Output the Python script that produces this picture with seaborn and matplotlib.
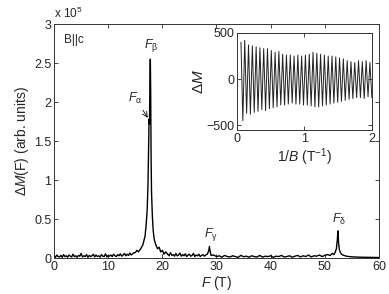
import numpy as np
import pandas as pd
import matplotlib
matplotlib.use("Agg")
import matplotlib.pyplot as plt
import seaborn as sns

sns.set_style("ticks")
plt.rcParams["font.family"] = ["Liberation Sans", "DejaVu Sans"]
plt.rcParams["mathtext.fontset"] = "custom"
plt.rcParams["mathtext.rm"] = "Liberation Sans"
plt.rcParams["mathtext.it"] = "Liberation Sans:italic"

# FFT spectrum (amplitude in units of 1e5)
freq_low = [0.0, 0.25, 0.5, 0.75, 1.0, 1.25, 1.5, 1.75, 2.0, 2.25, 2.5, 2.75, 3.0, 3.25, 3.5, 3.75,
            4.0, 4.25, 4.5, 4.75, 5.0, 5.25, 5.5, 5.75, 6.0, 6.25, 6.5, 6.75, 7.0, 7.25, 7.5, 7.75,
            8.0, 8.25, 8.5, 8.75, 9.0, 9.25, 9.5, 9.75, 10.0, 10.25, 10.5, 10.75, 11.0, 11.25, 11.5, 11.75,
            12.0, 12.25, 12.5, 12.75, 13.0, 13.25, 13.5, 13.75, 14.0, 14.25, 14.5, 14.75]
amp_low = [0.03, 0.01, 0.04, 0.02, 0.015, 0.035, 0.01, 0.045, 0.02, 0.03, 0.012, 0.04, 0.025, 0.015, 0.05, 0.02,
           0.03, 0.01, 0.035, 0.025, 0.06, 0.015, 0.03, 0.02, 0.045, 0.01, 0.035, 0.02, 0.03, 0.05, 0.015, 0.04,
           0.02, 0.03, 0.012, 0.045, 0.025, 0.02, 0.055, 0.015, 0.035, 0.025, 0.04, 0.02, 0.05, 0.03, 0.02, 0.045,
           0.03, 0.055, 0.025, 0.04, 0.06, 0.03, 0.05, 0.035, 0.065, 0.04, 0.055, 0.07]

freq_beta = [15.0, 15.3, 15.6, 16.0, 16.4, 16.8, 17.0, 17.2, 17.35, 17.45, 17.55, 17.62, 17.7, 17.78,
             17.85, 17.92, 18.0, 18.15, 18.3, 18.5, 18.8, 19.1, 19.4, 19.7, 20.0, 20.3, 20.6]
amp_beta = [0.07, 0.1, 0.08, 0.12, 0.17, 0.28, 0.42, 0.62, 0.95, 1.4, 1.78, 1.72, 2.2, 2.55,
            2.1, 1.3, 0.85, 0.55, 0.36, 0.24, 0.17, 0.12, 0.14, 0.08, 0.1, 0.05, 0.08]

freq_mid = [21.0, 21.25, 21.5, 21.75, 22.0, 22.25, 22.5, 22.75, 23.0, 23.25, 23.5, 23.75, 24.0, 24.25, 24.5,
            24.75, 25.0, 25.25, 25.5, 25.75, 26.0, 26.25, 26.5, 26.75, 27.0, 27.25, 27.5, 27.75, 28.0,
            28.3, 28.55, 28.7, 28.85, 29.0,
            29.5, 30.0, 30.5, 31.0, 31.5, 32.0, 32.5, 33.0, 33.5, 34.0, 34.5, 35.0, 35.5, 36.0, 36.5,
            37.0, 37.5, 38.0, 38.5, 39.0, 39.5, 40.0, 40.5, 41.0, 41.5, 42.0, 42.5, 43.0, 43.5, 44.0,
            44.5, 45.0, 45.5, 46.0, 46.5, 47.0, 47.5, 48.0, 48.5, 49.0, 49.5, 50.0, 50.5]
amp_mid = [0.05, 0.03, 0.07, 0.035, 0.045, 0.025, 0.06, 0.03, 0.04, 0.065, 0.025, 0.045, 0.03, 0.055, 0.02,
           0.04, 0.05, 0.025, 0.035, 0.06, 0.02, 0.04, 0.03, 0.05, 0.02, 0.035, 0.045, 0.025, 0.04,
           0.05, 0.09, 0.15, 0.08, 0.035,
           0.04, 0.02, 0.03, 0.012, 0.035, 0.02, 0.015, 0.03, 0.02, 0.01, 0.035, 0.018, 0.025, 0.012, 0.03,
           0.02, 0.015, 0.035, 0.012, 0.025, 0.02, 0.03, 0.01, 0.025, 0.02, 0.035, 0.015, 0.02, 0.03, 0.012,
           0.025, 0.035, 0.015, 0.03, 0.02, 0.04, 0.015, 0.03, 0.025, 0.04, 0.02, 0.035, 0.045]

freq_delta = [51.0, 51.4, 51.7, 51.95, 52.15, 52.3, 52.45, 52.55, 52.7, 52.9, 53.1, 53.5, 54.0,
              54.5, 55.0, 56.0, 57.0, 58.0, 59.0, 60.0]
amp_delta = [0.035, 0.06, 0.045, 0.08, 0.12, 0.22, 0.35, 0.2, 0.11, 0.07, 0.05, 0.035, 0.025,
             0.02, 0.017, 0.013, 0.011, 0.01, 0.009, 0.008]

# inset: dHvA oscillation vs 1/B, extrema of each period
peak_x = [0.060, 0.116, 0.172, 0.229, 0.285, 0.341, 0.397, 0.453, 0.510, 0.566, 0.622, 0.678,
          0.734, 0.791, 0.847, 0.903, 0.959, 1.015, 1.072, 1.128, 1.184, 1.240, 1.296, 1.353,
          1.409, 1.465, 1.521, 1.577, 1.634, 1.690, 1.746, 1.802, 1.858, 1.915, 1.971]
peak_y = [400, 420, 370, 360, 350, 340, 330, 330, 310, 290, 300, 270,
          260, 260, 250, 260, 250, 260, 270, 290, 280, 270, 260, 250,
          250, 240, 230, 220, 200, 190, 180, 200, 190, 200, 180]
trough_x = [0.088, 0.144, 0.200, 0.257, 0.313, 0.369, 0.425, 0.481, 0.538, 0.594, 0.650, 0.706,
            0.762, 0.819, 0.875, 0.931, 0.987, 1.043, 1.100, 1.156, 1.212, 1.268, 1.324, 1.381,
            1.437, 1.493, 1.549, 1.605, 1.662, 1.718, 1.774, 1.830, 1.886, 1.943, 1.999]
trough_y = [-450, -370, -380, -360, -350, -330, -340, -320, -310, -300, -280, -280,
            -270, -260, -270, -270, -280, -280, -290, -300, -300, -290, -280, -270,
            -260, -250, -240, -230, -220, -210, -200, -200, -210, -190, -200]

spec = pd.DataFrame({
    "F": np.concatenate([freq_low, freq_beta, freq_mid, freq_delta]),
    "amp": np.concatenate([amp_low, amp_beta, amp_mid, amp_delta]),
})
osc = pd.DataFrame({
    "invB": np.ravel(np.column_stack([peak_x, trough_x])),
    "dM": np.ravel(np.column_stack([peak_y, trough_y])),
})

fig = plt.figure(figsize=(3.89, 2.94), dpi=100)
ax = fig.add_axes([0.139, 0.122, 0.835, 0.796])
sns.lineplot(data=spec, x="F", y="amp", ax=ax, color="k", lw=1.0, sort=False, estimator=None)
ax.set_xlim(0, 60)
ax.set_ylim(0, 3)
ax.set_xticks([0, 10, 20, 30, 40, 50, 60])
ax.set_yticks([0, 0.5, 1, 1.5, 2, 2.5, 3])
ax.set_yticklabels(["0", "0.5", "1", "1.5", "2", "2.5", "3"])
ax.tick_params(direction="in", top=True, right=True, length=3, width=0.6, labelsize=9, pad=2)
for s in ax.spines.values():
    s.set_linewidth(0.7)
    s.set_color("#333333")
ax.set_xlabel(r"$F$ (T)", fontsize=10, labelpad=1)
ax.set_ylabel(r"Δ$M$(F) (arb. units)", fontsize=10, labelpad=2)
ax.text(0.0, 1.012, r"x 10$^5$", transform=ax.transAxes, fontsize=8.5, ha="left", va="bottom")

ax.text(1.9, 2.8, "B||c", fontsize=8.5, ha="left", va="center")
ax.text(17.9, 2.72, r"$F_{\mathrm{\beta}}$", fontsize=9, ha="center", va="center")
ax.annotate(r"$F_{\mathrm{\alpha}}$", xy=(17.3, 1.8), xytext=(15.0, 2.05), fontsize=9,
            ha="center", va="center",
            arrowprops=dict(arrowstyle="->", lw=0.6, color="k", shrinkA=1, shrinkB=0))
ax.text(29.0, 0.3, r"$F_{\mathrm{\gamma}}$", fontsize=9, ha="center", va="center")
ax.text(52.6, 0.49, r"$F_{\mathrm{\delta}}$", fontsize=9, ha="center", va="center")

ax2 = fig.add_axes([0.609, 0.558, 0.347, 0.33])
sns.lineplot(data=osc, x="invB", y="dM", ax=ax2, color="#222222", lw=0.7, sort=False, estimator=None)
ax2.set_xlim(0, 2)
ax2.set_ylim(-550, 500)
ax2.set_xticks([0, 1, 2])
ax2.set_yticks([-500, 0, 500])
ax2.tick_params(direction="in", top=True, right=True, length=3, width=0.6, labelsize=9, pad=2)
for s in ax2.spines.values():
    s.set_linewidth(0.7)
    s.set_color("#333333")
ax2.set_xlabel(r"$1/B$ (T$^{-1}$)", fontsize=10, labelpad=1)
ax2.set_ylabel(r"Δ$M$", fontsize=11, labelpad=0)

fig.savefig("out.png", dpi=100)
